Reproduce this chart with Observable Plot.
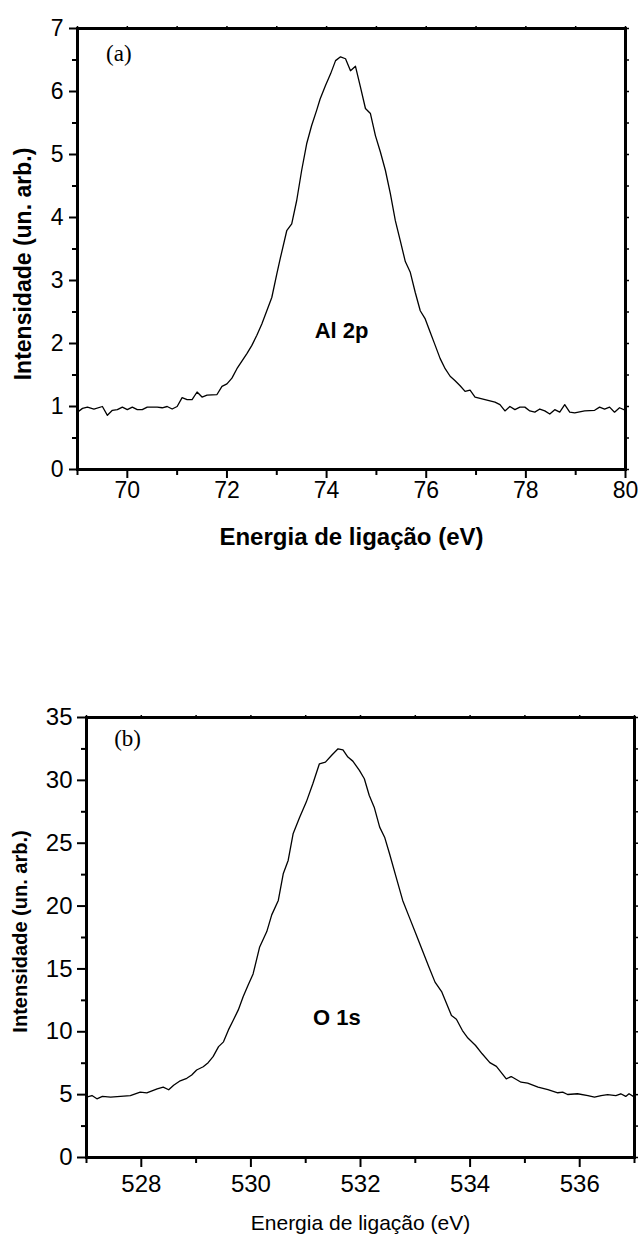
<!DOCTYPE html>
<html><head><meta charset="utf-8">
<script src="https://cdn.jsdelivr.net/npm/d3@7"></script>
<script src="https://cdn.jsdelivr.net/npm/@observablehq/plot@0.6"></script>
<style>body{margin:0;background:#fff;} #chart svg{display:block;}</style>
</head><body><div id="chart"></div>
<script>
// Panel (a): Al 2p
const alEnergy = [69.0,69.1,69.2,69.33,69.5,69.6,69.7,69.8,69.9,70.0,70.1,70.2,70.3,70.4,70.6,70.7,70.8,70.9,71.0,71.1,71.2,71.3,71.4,71.5,71.6,71.8,71.9,72.0,72.1,72.2,72.3,72.4,72.5,72.6,72.7,72.8,72.9,73.0,73.07,73.2,73.3,73.4,73.5,73.6,73.7,73.8,73.87,73.98,74.08,74.18,74.28,74.38,74.48,74.58,74.68,74.78,74.88,74.98,75.08,75.18,75.28,75.38,75.48,75.58,75.68,75.78,75.88,75.98,76.08,76.18,76.28,76.38,76.48,76.58,76.68,76.78,76.88,76.98,77.18,77.38,77.48,77.58,77.68,77.78,77.88,77.98,78.08,78.18,78.28,78.38,78.48,78.58,78.68,78.78,78.88,78.98,79.18,79.38,79.48,79.58,79.68,79.78,79.88,80.0];
const alIntensity = [0.91,0.97,0.99,0.96,1.00,0.86,0.94,0.95,0.99,0.95,0.99,0.95,0.95,0.99,0.99,0.98,1.00,0.96,1.00,1.14,1.11,1.11,1.23,1.15,1.18,1.19,1.32,1.36,1.45,1.60,1.72,1.84,1.97,2.13,2.31,2.52,2.73,3.10,3.35,3.79,3.90,4.27,4.75,5.17,5.46,5.70,5.88,6.10,6.28,6.49,6.55,6.52,6.33,6.40,6.07,5.73,5.65,5.30,5.04,4.75,4.38,3.95,3.63,3.30,3.13,2.81,2.52,2.39,2.18,1.97,1.76,1.60,1.48,1.41,1.33,1.24,1.26,1.15,1.11,1.07,1.03,0.93,1.00,0.95,0.99,0.99,0.93,0.91,0.96,0.93,0.88,0.95,0.91,1.03,0.91,0.90,0.93,0.94,0.99,0.96,0.99,0.91,0.98,0.94];

// Panel (b): O 1s
const oEnergy = [527.0,527.1,527.19,527.29,527.44,527.62,527.8,527.98,528.1,528.29,528.4,528.5,528.59,528.71,528.83,528.92,529.01,529.13,529.22,529.31,529.41,529.5,529.59,529.68,529.77,529.86,529.95,530.04,530.16,530.29,530.38,530.5,530.59,530.68,530.77,530.89,531.01,531.13,531.25,531.36,531.47,531.59,531.68,531.77,531.86,531.98,532.07,532.16,532.25,532.35,532.44,532.53,532.65,532.77,532.89,533.01,533.13,533.25,533.36,533.48,533.66,533.75,533.86,533.96,534.1,534.22,534.36,534.48,534.66,534.75,534.93,535.05,535.24,535.42,535.6,535.69,535.78,535.96,536.15,536.27,536.39,536.51,536.66,536.75,536.84,536.9,537.0];
const oIntensity = [4.80,4.93,4.67,4.86,4.80,4.86,4.93,5.20,5.14,5.46,5.60,5.39,5.75,6.10,6.30,6.56,6.96,7.22,7.54,8.02,8.82,9.20,10.15,10.94,11.74,12.80,13.73,14.60,16.75,17.97,19.3,20.45,22.57,23.63,25.75,27.07,28.27,29.73,31.32,31.45,31.98,32.51,32.43,31.85,31.53,30.79,30.13,28.80,27.87,26.28,25.48,24.16,22.30,20.45,19.12,17.80,16.47,15.14,13.95,13.20,11.30,11.0,10.10,9.50,8.91,8.25,7.55,7.25,6.26,6.44,5.99,5.91,5.60,5.39,5.15,5.20,5.01,5.07,4.93,4.80,4.93,5.00,4.93,5.07,4.86,5.07,4.80];

// Ticks
const aXMajor = [70,72,74,76,78,80];
const aXMinor = [69,71,73,75,77,79];
const aXAll = [69,70,71,72,73,74,75,76,77,78,79,80];
const aYMajor = [0,1,2,3,4,5,6,7];
const aYMinor = [0.5,1.5,2.5,3.5,4.5,5.5,6.5];
const bXMajor = [528,530,532,534,536];
const bXMinor = [527,529,531,533,535,537];
const bXAll = [527,528,529,530,531,532,533,534,535,536,537];
const bYMajor = [0,5,10,15,20,25,30,35];
const bYMinor = [2.5,7.5,12.5,17.5,22.5,27.5,32.5];

// Texts
const xTitle = "Energia de ligação (eV)";
const yTitle = "Intensidade (un. arb.)";
const aPanelTag = [{x: 69.83, y: 6.6, t: "(a)"}];
const aPeakTag = [{x: 74.3, y: 2.2, t: "Al 2p"}];
const bPanelTag = [{x: 527.75, y: 33.3, t: "(b)"}];
const bPeakTag = [{x: 531.57, y: 11.1, t: "O 1s"}];

const FONT = "'Liberation Sans', Arial, Helvetica, sans-serif";
const SERIF = "'Liberation Serif', 'Times New Roman', serif";

function frameAxes(o) {
  const blank = () => "";
  return [
    Plot.axisX(o.xMajor, {anchor: "bottom", tickSize: o.xMajorSize, tickPadding: o.xPad, strokeWidth: 2, fontSize: o.tickFont, label: null, tickFormat: d => String(d)}),
    Plot.axisX(o.xMinor, {anchor: "bottom", tickSize: o.xMinorSize, strokeWidth: 2, label: null, tickFormat: blank}),
    Plot.axisX(o.xAll, {anchor: "top", tickSize: 3, strokeWidth: 1.5, label: null, tickFormat: blank}),
    Plot.axisY(o.yMajor, {anchor: "left", tickSize: o.yMajorSize, tickPadding: o.yPad, strokeWidth: 2, fontSize: o.tickFont, label: null, tickFormat: d => String(d)}),
    Plot.axisY(o.yMinor, {anchor: "left", tickSize: o.yMinorSize, strokeWidth: 2, label: null, tickFormat: blank}),
    Plot.axisY(o.yMajor.concat(o.yMinor), {anchor: "right", tickSize: 3, strokeWidth: 1.5, label: null, tickFormat: blank}),
    Plot.frame({stroke: "black", strokeWidth: 3})
  ];
}

const plotA = Plot.plot({
  width: 639, height: 600,
  marginTop: 28, marginLeft: 77, marginRight: 14, marginBottom: 131,
  style: {fontFamily: FONT, background: "white", color: "black", overflow: "visible"},
  x: {domain: [69, 80]},
  y: {domain: [0, 7]},
  marks: [
    Plot.line(alIntensity, {x: alEnergy, y: alIntensity, stroke: "black", strokeWidth: 1.3}),
    ...frameAxes({xMajor: aXMajor, xMinor: aXMinor, xAll: aXAll, yMajor: aYMajor, yMinor: aYMinor,
      xMajorSize: 9, xMinorSize: 6, xPad: 3, yMajorSize: 8, yMinorSize: 5, yPad: 6, tickFont: 23}),
    Plot.text(aPanelTag, {x: "x", y: "y", text: "t", fontFamily: SERIF, fontSize: 23, fill: "black"}),
    Plot.text(aPeakTag, {x: "x", y: "y", text: "t", fontSize: 22, fontWeight: "bold", fill: "black"}),
    Plot.text([xTitle], {frameAnchor: "bottom", dy: 68, textAnchor: "middle", lineAnchor: "middle", text: d => d, fontSize: 24, fontWeight: "bold", fill: "black"}),
    Plot.text([yTitle], {frameAnchor: "left", dx: -54, dy: 15, rotate: -90, textAnchor: "middle", lineAnchor: "middle", text: d => d, fontSize: 23, fontWeight: "bold", fill: "black"})
  ]
});

const plotB = Plot.plot({
  width: 639, height: 636,
  marginTop: 117, marginLeft: 86, marginRight: 5, marginBottom: 79,
  style: {fontFamily: FONT, background: "white", color: "black", overflow: "visible"},
  x: {domain: [527, 537]},
  y: {domain: [0, 35]},
  marks: [
    Plot.line(oIntensity, {x: oEnergy, y: oIntensity, stroke: "black", strokeWidth: 1.3}),
    ...frameAxes({xMajor: bXMajor, xMinor: bXMinor, xAll: bXAll, yMajor: bYMajor, yMinor: bYMinor,
      xMajorSize: 10, xMinorSize: 6, xPad: 7, yMajorSize: 9, yMinorSize: 5, yPad: 5, tickFont: 24}),
    Plot.text(bPanelTag, {x: "x", y: "y", text: "t", fontFamily: SERIF, fontSize: 23, fill: "black"}),
    Plot.text(bPeakTag, {x: "x", y: "y", text: "t", fontSize: 22, fontWeight: "bold", fill: "black"}),
    Plot.text([xTitle], {frameAnchor: "bottom", dy: 66, textAnchor: "middle", lineAnchor: "middle", text: d => d, fontSize: 21, fill: "black"}),
    Plot.text([yTitle], {frameAnchor: "left", dx: -66, dy: -6, rotate: -90, textAnchor: "middle", lineAnchor: "middle", text: d => d, fontSize: 20, fontWeight: "bold", fill: "black"})
  ]
});

const root = document.getElementById("chart");
root.appendChild(plotA);
root.appendChild(plotB);
</script>
</body></html>
